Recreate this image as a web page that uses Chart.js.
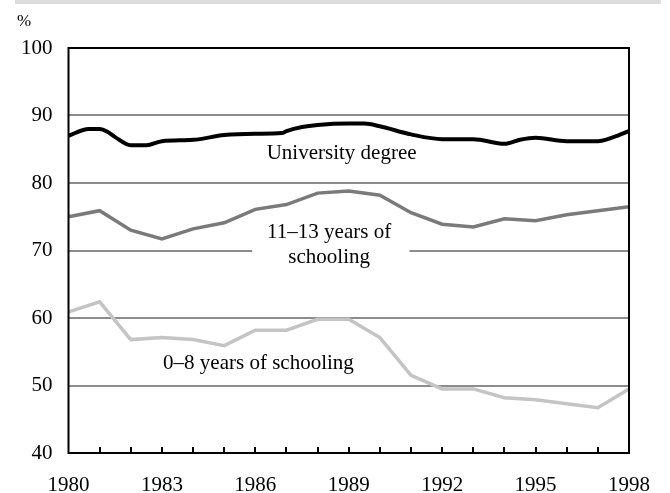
<!DOCTYPE html>
<html>
<head>
<meta charset="utf-8">
<script src="https://cdn.jsdelivr.net/npm/chart.js@4.4.0/dist/chart.umd.min.js"></script>
<style>
  body { margin: 0; background: #fff; }
  canvas { display: block; }
</style>
</head>
<body>
<canvas id="myChart" width="670" height="493"></canvas>
<script>
// university degree line has some half-year points
var uniYears = [1980, 1980.65, 1981, 1981.25, 1981.5, 1982, 1982.5, 1983, 1984, 1985, 1986, 1986.85, 1987, 1987.5, 1988, 1989, 1989.5, 1990, 1991, 1992, 1993, 1994, 1994.5, 1995, 1996, 1997, 1997.5, 1998];
var uniValues = [87.0, 88.0, 88.0, 87.6, 86.8, 85.6, 85.6, 86.2, 86.4, 87.1, 87.3, 87.4, 87.7, 88.3, 88.6, 88.8, 88.8, 88.4, 87.2, 86.5, 86.5, 85.8, 86.4, 86.7, 86.2, 86.2, 86.8, 87.7];

var years = [1980, 1981, 1982, 1983, 1984, 1985, 1986, 1987, 1988, 1989, 1990, 1991, 1992, 1993, 1994, 1995, 1996, 1997, 1998];
var mid = [75.0, 75.9, 73.0, 71.7, 73.2, 74.1, 76.1, 76.8, 78.5, 78.8, 78.2, 75.6, 73.9, 73.5, 74.7, 74.4, 75.3, 75.9, 76.5];
var low = [60.9, 62.4, 56.8, 57.1, 56.8, 55.9, 58.2, 58.2, 59.8, 59.8, 57.1, 51.5, 49.5, 49.5, 48.2, 47.9, 47.3, 46.7, 49.5];

var yTicks = [40, 50, 60, 70, 80, 90, 100];
var xLabelYears = [1980, 1983, 1986, 1989, 1992, 1995, 1998];

function pts(xs, ys) {
  var out = [];
  for (var i = 0; i < xs.length; i++) out.push({x: xs[i], y: ys[i]});
  return out;
}

var serif = '"Liberation Serif", "Times New Roman", serif';

var decor = {
  id: 'decor',
  beforeDraw: function(chart) {
    var ctx = chart.ctx;
    ctx.save();
    ctx.fillStyle = '#dcdcdc';
    ctx.fillRect(15, 0, 646, 4);
    ctx.restore();
  },
  beforeDatasetsDraw: function(chart) {
    // white patch behind the middle label cuts the 70 gridline
    var ctx = chart.ctx, x = chart.scales.x, y = chart.scales.y;
    ctx.save();
    ctx.fillStyle = '#fff';
    var x0 = x.getPixelForValue(1985.9), x1 = x.getPixelForValue(1990.95);
    var y0 = y.getPixelForValue(74.8), y1 = y.getPixelForValue(67.3);
    ctx.fillRect(x0, y0, x1 - x0, y1 - y0);
    ctx.restore();
  },
  afterDraw: function(chart) {
    var ctx = chart.ctx, a = chart.chartArea, x = chart.scales.x, y = chart.scales.y;
    ctx.save();
    ctx.strokeStyle = '#000';
    ctx.lineWidth = 2;
    ctx.strokeRect(a.left, a.top, a.right - a.left, a.bottom - a.top);
    // inner tick marks every year
    ctx.beginPath();
    for (var yr = 1981; yr < 1998; yr++) {
      var px = Math.round(x.getPixelForValue(yr));
      ctx.moveTo(px, a.bottom);
      ctx.lineTo(px, a.bottom - 6);
    }
    ctx.stroke();

    ctx.fillStyle = '#000';
    ctx.textAlign = 'center';
    ctx.textBaseline = 'middle';
    ctx.font = '21px ' + serif;
    ctx.fillText('University degree', x.getPixelForValue(1988.77), y.getPixelForValue(84.3));
    ctx.fillText('11\u201313 years of', x.getPixelForValue(1988.37), y.getPixelForValue(72.7));
    ctx.fillText('schooling', x.getPixelForValue(1988.37), y.getPixelForValue(69.0));
    ctx.fillText('0\u20138 years of schooling', x.getPixelForValue(1986.1), y.getPixelForValue(53.3));

    ctx.font = '17px ' + serif;
    ctx.textAlign = 'left';
    ctx.fillText('%', 17, 22);
    ctx.restore();
  }
};

var ctx = document.getElementById('myChart');
var chart = new Chart(ctx, {
  type: 'line',
  data: {
    datasets: [
      {
        label: 'University degree',
        data: pts(uniYears, uniValues),
        borderColor: '#000',
        borderWidth: 4,
        pointRadius: 0,
        cubicInterpolationMode: 'monotone',
        fill: false
      },
      {
        label: '11-13 years of schooling',
        data: pts(years, mid),
        borderColor: '#7a7a7a',
        borderWidth: 3.5,
        pointRadius: 0,
        tension: 0,
        fill: false
      },
      {
        label: '0-8 years of schooling',
        data: pts(years, low),
        borderColor: '#c4c4c4',
        borderWidth: 3.5,
        pointRadius: 0,
        tension: 0,
        fill: false
      }
    ]
  },
  plugins: [decor],
  options: {
    responsive: false,
    animation: false,
    layout: { padding: { left: 0, right: 36, top: 48, bottom: 0 } },
    plugins: {
      legend: { display: false },
      tooltip: { enabled: false }
    },
    scales: {
      x: {
        type: 'linear',
        min: 1980,
        max: 1998,
        afterFit: function(s) { s.height = 40; },
        grid: { display: false, drawTicks: false },
        border: { display: false },
        ticks: {
          stepSize: 1,
          autoSkip: false,
          maxRotation: 0,
          padding: 20,
          color: '#000',
          font: { family: serif, size: 21 },
          callback: function(v) { return xLabelYears.indexOf(v) >= 0 ? String(v) : ''; }
        }
      },
      y: {
        min: 40,
        max: 100,
        afterFit: function(s) { s.width = 68.5; },
        afterBuildTicks: function(s) { s.ticks = yTicks.map(function(v) { return {value: v}; }); },
        grid: { color: '#8c8c8c', lineWidth: 2, drawTicks: false },
        border: { display: false },
        ticks: {
          padding: 16,
          color: '#000',
          font: { family: serif, size: 21 }
        }
      }
    }
  }
});
</script>
</body>
</html>
